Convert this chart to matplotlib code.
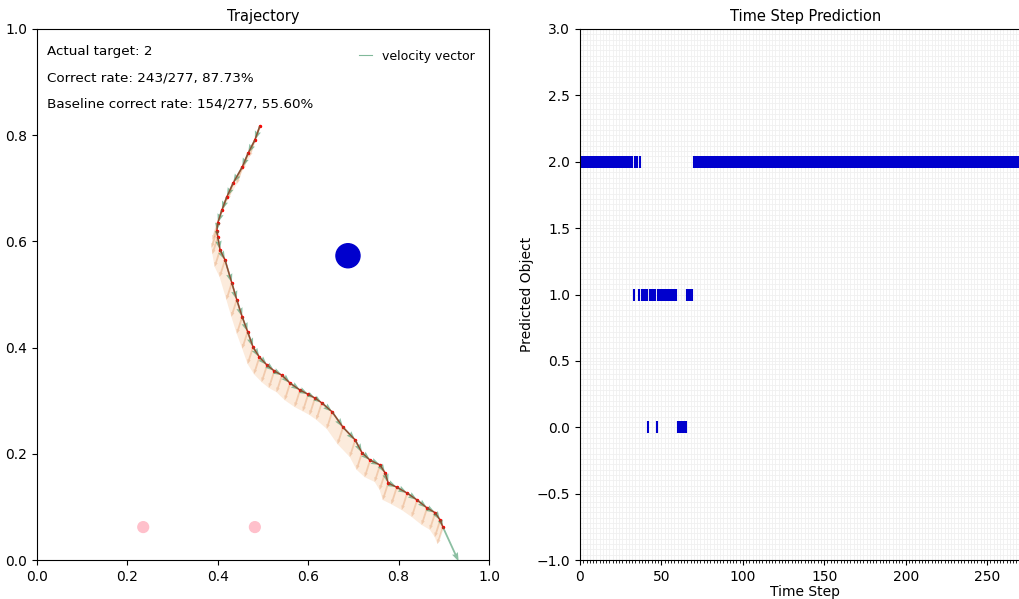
#!/usr/bin/env python3
# -*- coding: utf-8 -*-
import matplotlib.pyplot as plt
import numpy as np
from matplotlib.collections import PolyCollection
from matplotlib.lines import Line2D
from matplotlib.ticker import MultipleLocator

# trajectory waypoints
traj_x = [0.493, 0.482, 0.467, 0.454, 0.434, 0.420, 0.409, 0.400, 0.398, 0.400,
          0.405, 0.416, 0.431, 0.442, 0.454, 0.466, 0.478, 0.492, 0.509, 0.525,
          0.542, 0.560, 0.582, 0.600, 0.615, 0.630, 0.653, 0.677, 0.704, 0.719,
          0.737, 0.759, 0.770, 0.777, 0.796, 0.819, 0.841, 0.863, 0.881, 0.892,
          0.898]
traj_y = [0.817, 0.791, 0.766, 0.740, 0.710, 0.684, 0.659, 0.635, 0.620, 0.608,
          0.584, 0.565, 0.522, 0.490, 0.458, 0.430, 0.401, 0.382, 0.367, 0.356,
          0.348, 0.333, 0.320, 0.312, 0.305, 0.296, 0.279, 0.250, 0.226, 0.202,
          0.188, 0.179, 0.164, 0.145, 0.137, 0.126, 0.113, 0.098, 0.089, 0.075,
          0.062]
# extra velocity of the last point (long arrow leaving the trajectory)
end_vel = (0.035, -0.065)
# offset arrows (orange band), direction
push_u = -0.012
push_v = -0.032

targets_x = [0.235, 0.482, 0.688]
targets_y = [0.062, 0.062, 0.573]
actual_target = 2

# time step prediction, runs of (first step, last step, predicted object)
pred_runs = [(0, 32, 2), (33, 33, 1), (34, 35, 2), (36, 36, 1), (37, 37, 2),
             (38, 41, 1), (42, 42, 0), (43, 46, 1), (47, 47, 0), (48, 59, 1),
             (60, 65, 0), (66, 69, 1), (70, 276, 2)]
n_steps = 277
correct = 243
baseline_correct = 154

fig = plt.figure(figsize=(10.2, 5.99), dpi=100)
ax1 = fig.add_axes([37 / 1020, 39 / 599, 452 / 1020, 531 / 599])
ax2 = fig.add_axes([580 / 1020, 39 / 599, 451 / 1020, 531 / 599])

# left panel
tx = np.array(traj_x)
ty = np.array(traj_y)
vu = np.append(np.diff(tx), end_vel[0])
vv = np.append(np.diff(ty), end_vel[1])

# swept band of the offset arrows, one quad per segment
quads = []
for i in range(len(tx) - 1):
    quads.append([(tx[i], ty[i]), (tx[i + 1], ty[i + 1]),
                  (tx[i + 1] + push_u, ty[i + 1] + push_v), (tx[i] + push_u, ty[i] + push_v)])
ax1.add_collection(PolyCollection(quads, facecolor="sandybrown", edgecolor="none", alpha=0.22))
ax1.quiver(tx, ty, np.full(tx.shape, push_u), np.full(ty.shape, push_v),
           angles="xy", scale_units="xy", scale=1, color="chocolate",
           alpha=0.25, width=0.004, headwidth=2, headlength=2.5, headaxislength=2.5)
ax1.plot(tx, ty, "-", color="red", lw=1.0, marker=".", markersize=3)
ax1.quiver(tx, ty, vu, vv, angles="xy", scale_units="xy", scale=1,
           color="seagreen", alpha=0.55, width=0.004, headwidth=3.5, zorder=3)

cols = ["pink", "pink", "mediumblue"]
ax1.scatter(targets_x, targets_y, s=[60, 60, 300], c=cols, zorder=4)

ax1.set_xlim(0, 1)
ax1.set_ylim(0, 1)
ax1.set_title("Trajectory", fontsize=10.5)
ax1.text(0.022, 0.957, "Actual target: %d" % actual_target, transform=ax1.transAxes,
         va="center", fontsize=9.7)
ax1.text(0.022, 0.908, "Correct rate: %d/%d, %.2f%%" % (correct, n_steps, correct / n_steps * 100),
         transform=ax1.transAxes, va="center", fontsize=9.7)
ax1.text(0.022, 0.859, "Baseline correct rate: %d/%d, %.2f%%"
         % (baseline_correct, n_steps, baseline_correct / n_steps * 100),
         transform=ax1.transAxes, va="center", fontsize=9.7)
handle = Line2D([0], [0], color="seagreen", alpha=0.6, lw=0.8, label="velocity vector")
ax1.legend(handles=[handle], loc="upper right", frameon=False, handlelength=1.0,
           fontsize=9, bbox_to_anchor=(0.993, 0.982))

# right panel
steps = np.arange(n_steps)
pred = np.full(n_steps, np.nan)
for first, last, obj in pred_runs:
    pred[first:last + 1] = obj

ax2.plot(steps, pred, "|", color="mediumblue", markersize=8.6, markeredgewidth=1.5)
ax2.set_xlim(0, n_steps)
ax2.set_ylim(-1, 3)
ax2.set_yticks(np.arange(-1, 3.01, 0.5))
ax2.xaxis.set_minor_locator(MultipleLocator(2))
ax2.yaxis.set_minor_locator(MultipleLocator(0.04))
ax2.tick_params(axis="y", which="minor", length=0)
ax2.grid(which="both", color="#f0f0f0", lw=0.6)
ax2.set_axisbelow(True)
ax2.set_title("Time Step Prediction", fontsize=10.5)
ax2.set_xlabel("Time Step", labelpad=1)
ax2.set_ylabel("Predicted Object", labelpad=2)

plt.savefig("out.png")
